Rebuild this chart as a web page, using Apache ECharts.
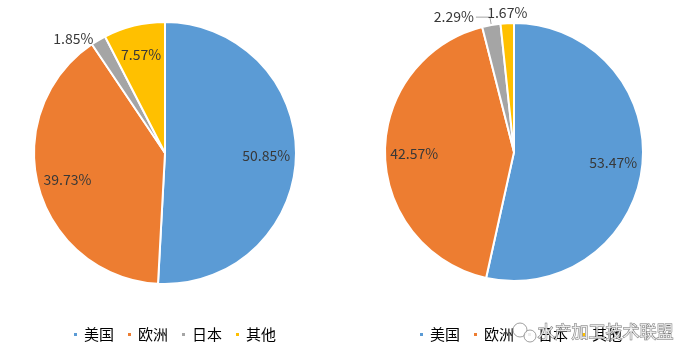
<!DOCTYPE html>
<html><head><meta charset="utf-8">
<script src="https://cdn.jsdelivr.net/npm/echarts@6/dist/echarts.min.js"></script>
<style>html,body{margin:0;padding:0;background:#fff}#c{width:692px;height:362px}</style>
</head><body><div id="c"></div>
<script>
var categories = ['美国', '欧洲', '日本', '其他'];
var leftValues = [50.85, 39.73, 1.85, 7.57];
var rightValues = [53.47, 42.57, 2.29, 1.67];
var colors = ['#5B9BD5', '#ED7D31', '#A5A5A5', '#FFC000'];
var watermark = '水产加工技术联盟';

function mk(vals) {
  return categories.map(function (n, i) { return { name: n, value: vals[i] }; });
}
var font = '"Noto Sans CJK SC", "Liberation Sans", sans-serif';
function base(vals, center, r) {
  return {
    type: 'pie', center: center, radius: [0, r], startAngle: 90, clockwise: true,
    silent: true, animation: false, avoidLabelOverlap: false,
    itemStyle: { borderColor: '#fff', borderWidth: 2 },
    label: { show: false }, labelLine: { show: false },
    emphasis: { disabled: true },
    data: mk(vals)
  };
}
function overlay(vals, center, r, small) {
  var d = mk(vals).map(function (it, i) {
    if (small[i]) {
      it.label = { position: 'outside', distanceToLabelLine: 2 };
      it.labelLine = small[i];
    }
    return it;
  });
  return {
    type: 'pie', center: center, radius: [r * 0.5, r], startAngle: 90, clockwise: true,
    silent: true, animation: false, avoidLabelOverlap: false,
    itemStyle: { color: 'rgba(0,0,0,0)', borderWidth: 0 },
    label: { show: true, position: 'inside', color: '#383838', fontSize: 14, fontFamily: font,
      formatter: function (p) { return p.value.toFixed(2) + '%'; } },
    labelLine: { show: false },
    emphasis: { disabled: true },
    data: d
  };
}
var L = overlay(leftValues, [165, 153], 131, [null, null, { show: false, length: 2, length2: 2 }, null]);
var R = overlay(rightValues, [514, 152], 129, [null, null,
  { show: true, length: 8, length2: 14, lineStyle: { color: '#A5A5A5', width: 1 } },
  { show: false, length: 4, length2: 0 }]);
R.labelLayout = function (p) {
  if (p.dataIndex === 3) {
    return { x: p.rect.x + p.rect.width / 2, y: p.rect.y - 3, align: 'center', verticalAlign: 'bottom' };
  }
};
var chart = echarts.init(document.getElementById('c'));
var legendCommon = {
  orient: 'horizontal', top: 327, padding: 0, itemWidth: 5, itemHeight: 5, itemGap: 12, icon: 'rect',
  selectedMode: false, textStyle: { fontSize: 15, color: '#000', fontFamily: font, padding: [0, 0, 0, 1] },
  data: categories
};
chart.setOption({
  color: colors,
  animation: false,
  legend: [
    Object.assign({ left: 72 }, legendCommon),
    Object.assign({ left: 418 }, legendCommon)
  ],
  series: [
    base(leftValues, [165, 153], 131),
    base(rightValues, [514, 152], 129),
    L, R
  ],
  graphic: [
    { type: 'circle', silent: true, z: 100, shape: { cx: 520, cy: 330, r: 7 },
      style: { fill: 'rgba(255,255,255,0.8)', stroke: 'rgba(120,120,120,0.7)', lineWidth: 1 } },
    { type: 'circle', silent: true, z: 100, shape: { cx: 530, cy: 336, r: 6 },
      style: { fill: 'rgba(255,255,255,0.8)', stroke: 'rgba(120,120,120,0.7)', lineWidth: 1 } },
    { type: 'text', left: 537, top: 323, silent: true, z: 100,
      style: { text: watermark, fontSize: 17, fontFamily: font, fill: 'rgba(255,255,255,0.8)',
        stroke: 'rgba(70,70,70,0.75)', lineWidth: 1 } }
  ]
});
</script></body></html>
